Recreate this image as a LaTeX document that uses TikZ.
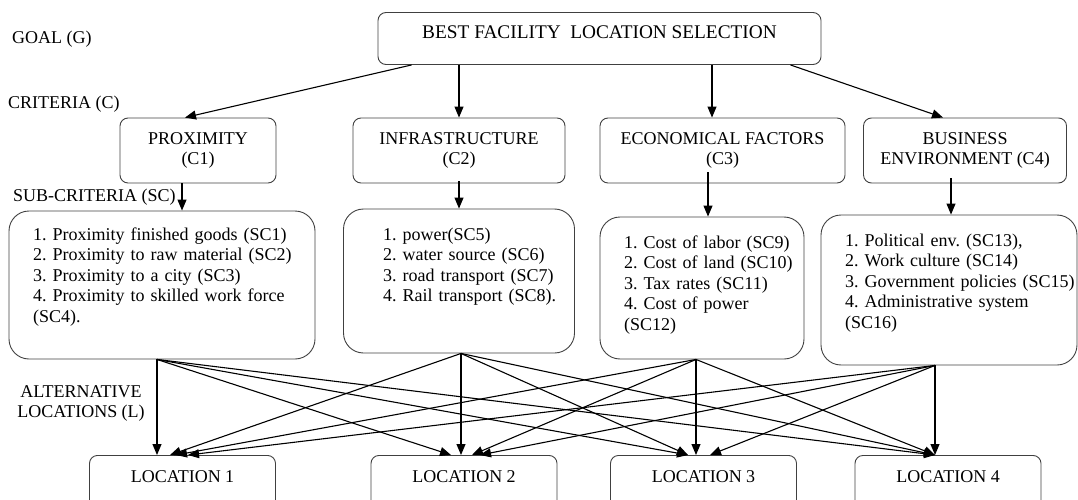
\documentclass[tikz,border=0pt]{standalone}
\usepackage{fontspec}
\setmainfont{Liberation Serif}
\usetikzlibrary{arrows.meta}
\frenchspacing

\begin{document}
\begin{tikzpicture}[x=1pt,y=-1pt,
  font=\fontsize{18}{20.5}\selectfont,
  every node/.style={inner sep=0pt},
  goalbox/.style={draw=black!75, line width=0.9pt, rounded corners=8pt,
    minimum width=443pt, minimum height=52pt},
  critbox/.style={draw=black!75, line width=0.9pt, rounded corners=8pt,
    minimum height=65pt, align=center},
  listbox/.style={draw=black!75, line width=0.9pt, rounded corners=20pt},
  listtxt/.style={anchor=base west, align=left},
  locbox/.style={draw=black!75, line width=0.9pt, rounded corners=8pt,
    anchor=north, minimum width=186pt, text height=12pt, text depth=36pt,
    inner ysep=15pt},
  lvl/.style={anchor=base west},
  conn/.style={-{Triangle[length=11pt,width=9pt]}, line width=1.1pt}]

\useasboundingbox (0,0) rectangle (1078,500);

% level names on the left
\node [lvl] (lg) at (12,44) {GOAL (G)};
\node [lvl] (lc) at (8,109) {CRITERIA (C)};
\node [lvl] (lsc) at (13,201) {SUB-CRITERIA (SC)};
\node [align=center] (ll) at (81,403.5) {ALTERNATIVE\\LOCATIONS (L)};

\node [goalbox, font=\fontsize{19.3}{22}\selectfont, text height=12.5pt,
  text depth=11.5pt] (goal) at (599.5,38.5)
  {BEST FACILITY~ LOCATION SELECTION};

\node [critbox, minimum width=156pt] (c1) at (198,150.5) {PROXIMITY\\(C1)};
\node [critbox, minimum width=212pt] (c2) at (459,150.5) {INFRASTRUCTURE\\(C2)};
\node [critbox, minimum width=245pt] (c3) at (722.5,150.5) {ECONOMICAL FACTORS\\(C3)};
\node [critbox, minimum width=203pt] (c4) at (965,150.5) {BUSINESS\\ENVIRONMENT (C4)};

\node [listbox, minimum width=306pt, minimum height=148pt] (sc1) at (162,285) {};
\node [listbox, minimum width=231pt, minimum height=144pt] (sc2) at (459,281) {};
\node [listbox, minimum width=204pt, minimum height=142pt] (sc3) at (702,288) {};
\node [listbox, minimum width=256pt, minimum height=150pt] (sc4) at (949,290) {};

\node [listtxt, text width=259pt] (sc1t) at (33,240)
  {1. Proximity finished goods (SC1)\\
   2. Proximity to raw material (SC2)\\
   3. Proximity to a city (SC3)\\
   \makebox[\linewidth][s]{4. Proximity to skilled work force}\\
   (SC4).};
\node [listtxt, text width=185pt] (sc2t) at (383,240)
  {1. power(SC5)\\
   2. water source (SC6)\\
   3. road transport (SC7)\\
   4. Rail transport (SC8).};
\node [listtxt, text width=175pt] (sc3t) at (624,248)
  {1. Cost of labor (SC9)\\
   2. Cost of land (SC10)\\
   3. Tax rates (SC11)\\
   4. Cost of power\\
   (SC12)};
\node [listtxt, text width=240pt] (sc4t) at (845,246)
  {1. Political env. (SC13),\\
   2. Work culture (SC14)\\
   3. Government policies (SC15)\\
   4. Administrative system\\
   (SC16)};

\node [locbox] (loc1) at (182.5,455) {LOCATION 1};
\node [locbox] (loc2) at (464,455) {LOCATION 2};
\node [locbox] (loc3) at (703.5,455) {LOCATION 3};
\node [locbox] (loc4) at (948,455) {LOCATION 4};

% goal to criteria
\draw [conn] ([xshift=34pt]goal.south west) -- ([xshift=-13pt]c1.north);
\draw [conn] ([xshift=-140.5pt]goal.south) -- (c2.north);
\draw [conn] ([xshift=112.5pt]goal.south) -- ([xshift=-10.5pt]c3.north);
\draw [conn] ([xshift=-31pt]goal.south east) -- ([xshift=-22pt]c4.north);

% criteria to sub-criteria
\draw [conn] ([xshift=-16pt]c1.south) -- ([xshift=20pt]sc1.north);
\draw [conn] ([yshift=2pt]c2.south) -- (sc2.north);
\draw [conn] ([xshift=-14.5pt,yshift=11pt]c3.south) -- ([xshift=6pt]sc3.north);
\draw [conn] ([xshift=-14pt,yshift=5pt]c4.south) -- ([xshift=2pt]sc4.north);

% sub-criteria to every location
\coordinate (o1) at ([xshift=-5pt]sc1.south);
\coordinate (o2) at ([xshift=2pt]sc2.south);
\coordinate (o3) at ([xshift=-6pt]sc3.south);
\coordinate (o4) at ([xshift=-14pt]sc4.south);

\draw [conn] (o1) -- ([xshift=-25.5pt]loc1.north);
\draw [conn] (o1) -- ([xshift=-13pt]loc2.north);
\draw [conn] (o1) -- ([xshift=-15.5pt]loc3.north);
\draw [conn] (o1) -- ([xshift=-13pt]loc4.north);
\draw [conn] (o2) -- ([xshift=-12.5pt]loc1.north);
\draw [conn] (o2) -- ([xshift=-3pt]loc2.north);
\draw [conn] (o2) -- ([xshift=-15.5pt]loc3.north);
\draw [conn] (o2) -- ([xshift=-13pt]loc4.north);
\draw [conn] (o3) -- ([xshift=-6.5pt]loc1.north);
\draw [conn] (o3) -- ([xshift=8pt]loc2.north);
\draw [conn] (o3) -- ([xshift=-7.5pt]loc3.north);
\draw [conn] (o3) -- ([xshift=-13pt]loc4.north);
\draw [conn] (o4) -- ([xshift=5.5pt]loc1.north);
\draw [conn] (o4) -- ([xshift=16pt]loc2.north);
\draw [conn] (o4) -- ([xshift=6.5pt]loc3.north);
\draw [conn] (o4) -- ([xshift=-13pt]loc4.north);

\end{tikzpicture}
\end{document}
